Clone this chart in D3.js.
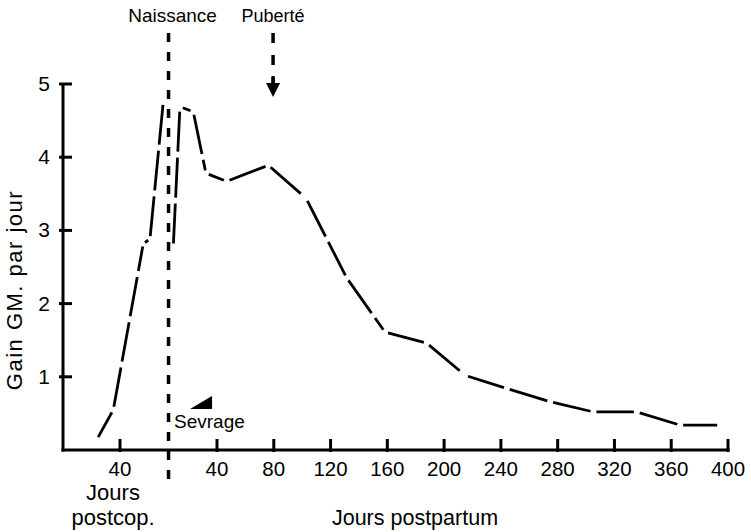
<!DOCTYPE html>
<html>
<head>
<meta charset="utf-8">
<script src="https://cdn.jsdelivr.net/npm/d3@7"></script>
<style>
  body { margin: 0; background: #fff; }
  text { font-family: "Liberation Sans", Arial, Helvetica, sans-serif; fill: #000; }
</style>
</head>
<body>
<script>
// postcoital part (before birth), days postcop.
const preDays = [23.6, 35.3, 56.4, 61.1, 70.7];
const preGain = [0.14, 0.55, 2.82, 2.88, 4.8];

// postpartum part, days after birth
const postDays = [9.2, 13.9, 23.3, 32.2, 46.8, 76.2, 102.7, 131.4, 158.4, 187.8, 214.8, 244.2, 274.7, 305.2, 335.8, 366.3, 394.5];
const postGain = [2.78, 4.69, 4.62, 3.78, 3.67, 3.89, 3.44, 2.35, 1.61, 1.46, 1.02, 0.84, 0.66, 0.52, 0.52, 0.34, 0.34];

const yTicks = [1, 2, 3, 4, 5];
const preTicks = [40];
const postTicks = [40, 80, 120, 160, 200, 240, 280, 320, 360, 400];

const naissance = 74.2;   // days postcop.
const puberte = 79.5;     // days postpartum
const sevrage = 36.5;     // days postpartum

const width = 751, height = 532;
const axisLeft = 63, axisBottom = 450;

const svg = d3.select("body").append("svg")
    .attr("width", width)
    .attr("height", height);

// scales
const yScale = d3.scaleLinear().domain([0, 5]).range([axisBottom, 84]);
const xPost = d3.scaleLinear().domain([40, 400]).range([217, 728]);
const pxPerDay = (xPost(400) - xPost(40)) / 360;
const xPre = d3.scaleLinear().domain([40, 80]).range([120, 120 + 40 * pxPerDay]);

// axes
svg.append("line")
    .attr("x1", axisLeft).attr("x2", axisLeft)
    .attr("y1", yScale(5) - 1).attr("y2", axisBottom + 1.5)
    .attr("stroke", "#000").attr("stroke-width", 3);
svg.append("line")
    .attr("x1", axisLeft - 1.5).attr("x2", xPost(400) + 1.5)
    .attr("y1", axisBottom).attr("y2", axisBottom)
    .attr("stroke", "#000").attr("stroke-width", 3);

// y ticks
svg.selectAll(".ytick").data(yTicks).enter().append("line")
    .attr("x1", axisLeft - 4).attr("x2", axisLeft + 9)
    .attr("y1", d => yScale(d)).attr("y2", d => yScale(d))
    .attr("stroke", "#000").attr("stroke-width", 3);
svg.selectAll(".ylab").data(yTicks).enter().append("text")
    .attr("x", 50).attr("y", d => yScale(d) + 7)
    .attr("text-anchor", "end")
    .attr("font-size", 21)
    .text(d => d);

// x ticks
const xTickData = preTicks.map(d => ({x: xPre(d), v: d}))
    .concat(postTicks.map(d => ({x: xPost(d), v: d})));
svg.selectAll(".xtick").data(xTickData).enter().append("line")
    .attr("x1", d => d.x).attr("x2", d => d.x)
    .attr("y1", axisBottom - 11).attr("y2", axisBottom + 2)
    .attr("stroke", "#000").attr("stroke-width", 3);
svg.selectAll(".xlab").data(xTickData).enter().append("text")
    .attr("x", d => d.x).attr("y", 476)
    .attr("text-anchor", "middle")
    .attr("font-size", 20.5)
    .text(d => d.v);

// axis titles
svg.append("text")
    .attr("transform", "translate(22,290) rotate(-90)")
    .attr("text-anchor", "middle")
    .attr("font-size", 22)
    .attr("letter-spacing", 1.5)
    .text("Gain GM. par jour");
svg.append("text")
    .attr("x", 113).attr("y", 500)
    .attr("text-anchor", "middle")
    .attr("font-size", 22)
    .text("Jours");
svg.append("text")
    .attr("x", 113).attr("y", 525)
    .attr("text-anchor", "middle")
    .attr("font-size", 22)
    .text("postcop.");
svg.append("text")
    .attr("x", 415).attr("y", 525)
    .attr("text-anchor", "middle")
    .attr("font-size", 21.5)
    .text("Jours postpartum");

// birth line
const xBirth = xPre(naissance);
svg.append("line")
    .attr("x1", xBirth).attr("x2", xBirth)
    .attr("y1", 33).attr("y2", 486)
    .attr("stroke", "#000").attr("stroke-width", 3.5)
    .attr("stroke-dasharray", "9,10");
svg.append("text")
    .attr("x", xBirth + 4).attr("y", 22)
    .attr("text-anchor", "middle")
    .attr("font-size", 19)
    .text("Naissance");

// puberty arrow
const xPub = xPost(puberte);
svg.append("line")
    .attr("x1", xPub).attr("x2", xPub)
    .attr("y1", 33).attr("y2", 84)
    .attr("stroke", "#000").attr("stroke-width", 3.5)
    .attr("stroke-dasharray", "10,12");
svg.append("path")
    .attr("d", `M${xPub - 7},${83} L${xPub + 7},${83} L${xPub},${97} Z`)
    .attr("fill", "#000");
svg.append("line")
    .attr("x1", xPub).attr("x2", xPub)
    .attr("y1", 76).attr("y2", 88)
    .attr("stroke", "#000").attr("stroke-width", 3);
svg.append("text")
    .attr("x", xPub).attr("y", 22)
    .attr("text-anchor", "middle")
    .attr("font-size", 18)
    .text("Puberté");

// weaning marker
const xSev = xPost(sevrage);
svg.append("path")
    .attr("d", `M${xSev - 22},409 L${xSev},396 L${xSev},409 Z`)
    .attr("fill", "#000");
svg.append("text")
    .attr("x", 174).attr("y", 428)
    .attr("font-size", 19)
    .text("Sevrage");

// curves: each segment drawn separately with a small gap at the joints
function drawCurve(xs, ys, xScale) {
  const pts = xs.map((d, i) => [xScale(d), yScale(ys[i])]);
  const segs = d3.pairs(pts);
  svg.selectAll(null).data(segs).enter().append("line")
      .each(function(s) {
        const [a, b] = s;
        const dx = b[0] - a[0], dy = b[1] - a[1];
        const L = Math.hypot(dx, dy);
        const g = Math.min(3, L / 4);
        d3.select(this)
          .attr("x1", a[0] + dx / L * g).attr("y1", a[1] + dy / L * g)
          .attr("x2", b[0] - dx / L * g).attr("y2", b[1] - dy / L * g);
      })
      .attr("stroke", "#000")
      .attr("stroke-width", 2.8)
      .attr("stroke-dasharray", "40,6");
}
drawCurve(preDays, preGain, xPre);
drawCurve(postDays, postGain, xPost);
</script>
</body>
</html>
